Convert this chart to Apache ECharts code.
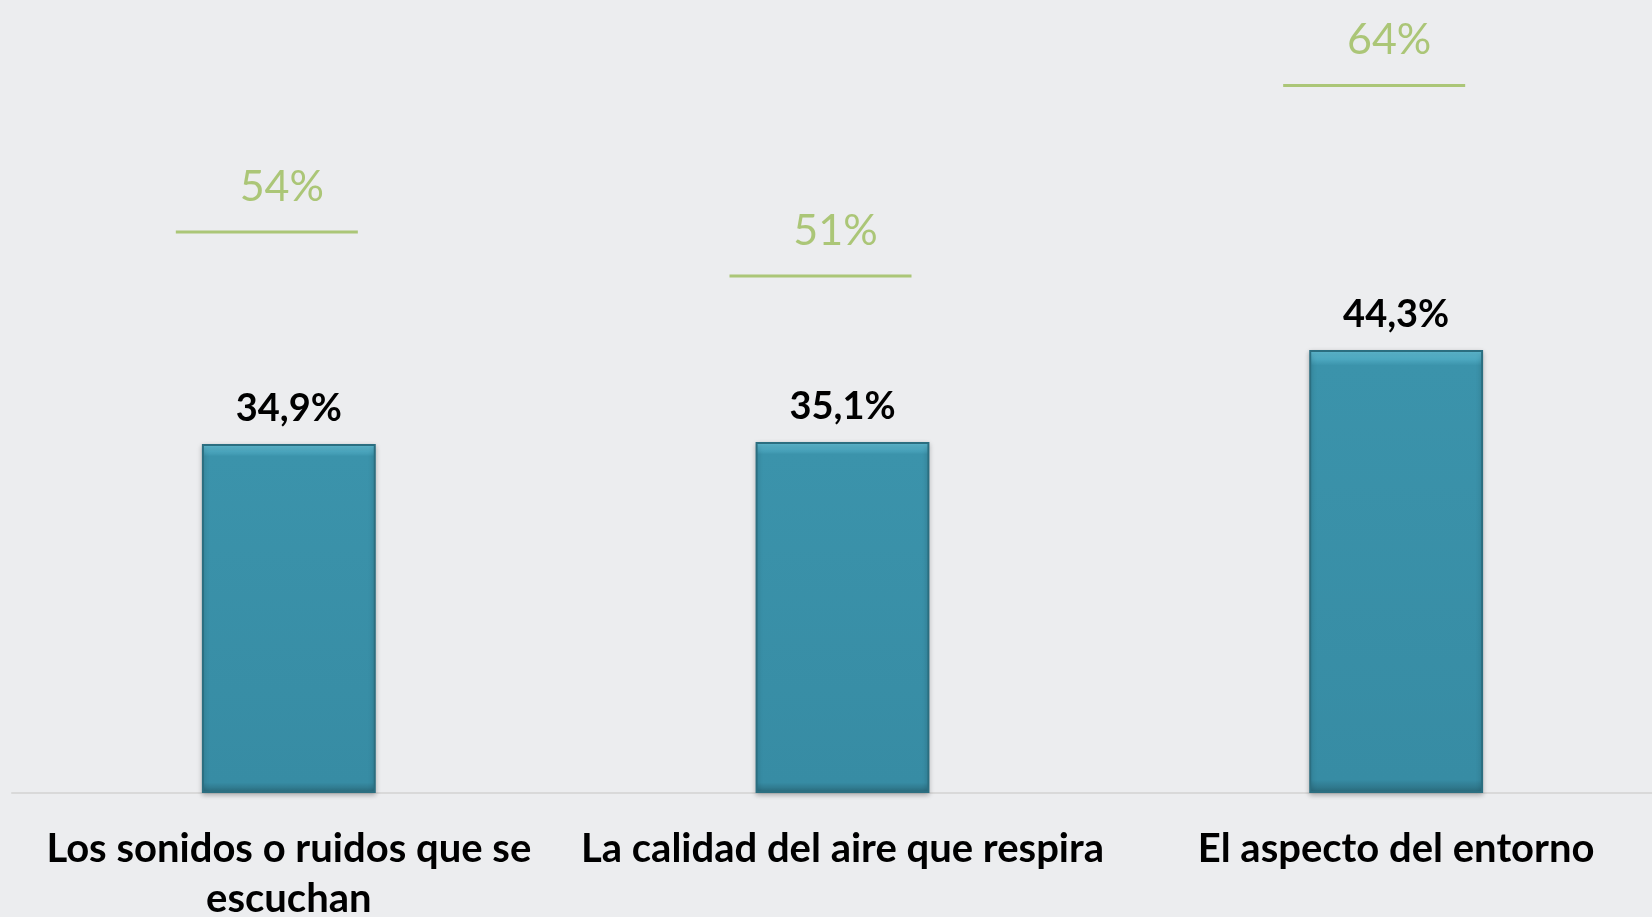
<!DOCTYPE html>
<html>
<head>
<meta charset="utf-8">
<script src="https://cdn.jsdelivr.net/npm/echarts@6/dist/echarts.min.js"></script>
<style>
  html, body { margin: 0; padding: 0; background: #ECEDEF; overflow: hidden; }
  #chart { width: 1652px; height: 917px; }
</style>
</head>
<body>
<div id="chart"></div>
<script>
// categories and values
const categories = ['Los sonidos o ruidos que se\nescuchan', 'La calidad del aire que respira', 'El aspecto del entorno'];
const barValues = [34.9, 35.1, 44.3];
const markerValues = [54, 51, 64];

const fmtComma = (v) => String(v.toFixed(1)).replace('.', ',') + '%';

const renderChart = () => {
  var myChart = echarts.init(document.getElementById('chart'));

  var option = {
    backgroundColor: '#ECEDEF',
    animation: false,
    grid: {
      left: 12,
      right: -21,
      top: 0,
      bottom: 124,
      outerBoundsMode: 'none'
    },
    xAxis: {
      type: 'category',
      data: categories,
      axisLine: { lineStyle: { color: '#D9D9D9', width: 2 } },
      axisTick: { show: false },
      axisLabel: {
        color: '#000000',
        fontFamily: 'Lato',
        fontWeight: 'bold',
        fontSize: 40,
        lineHeight: 50,
        margin: 31,
        interval: 0
      }
    },
    yAxis: [
      {
        type: 'value',
        min: 0,
        max: 79.3,
        show: false
      },
      {
        // hidden scale for the green reference marks
        type: 'value',
        min: 15.74,
        max: 69.83,
        show: false
      }
    ],
    series: [
      {
        type: 'bar',
        data: barValues,
        barWidth: '31.4%',
        itemStyle: {
          color: new echarts.graphic.LinearGradient(0, 0, 0, 1, [
            { offset: 0, color: '#66C6DE' },
            { offset: 0.035, color: '#3B93AB' },
            { offset: 0.97, color: '#378CA4' },
            { offset: 1, color: '#2A6A7C' }
          ]),
          borderColor: '#2B6E80',
          borderWidth: 2,
          shadowColor: 'rgba(0,0,0,0.25)',
          shadowBlur: 5,
          shadowOffsetY: 2
        },
        label: {
          show: true,
          position: 'top',
          distance: 16,
          color: '#000000',
          fontFamily: 'Lato',
          fontWeight: 'bold',
          fontSize: 38,
          formatter: (p) => fmtComma(p.value)
        }
      },
      {
        type: 'scatter',
        yAxisIndex: 1,
        data: markerValues,
        symbol: 'rect',
        symbolSize: [182, 3],
        symbolOffset: [-22, 0],
        itemStyle: { color: '#9BBB59' },
        label: {
          show: true,
          position: 'top',
          distance: 22,
          offset: [15, 0],
          color: '#9BBB59',
          fontFamily: 'Lato',
          fontSize: 43,
          formatter: (p) => p.value + '%'
        }
      }
    ]
  };

  myChart.setOption(option);
}

document.addEventListener('DOMContentLoaded', function () {
  renderChart();
});
</script>
</body>
</html>
